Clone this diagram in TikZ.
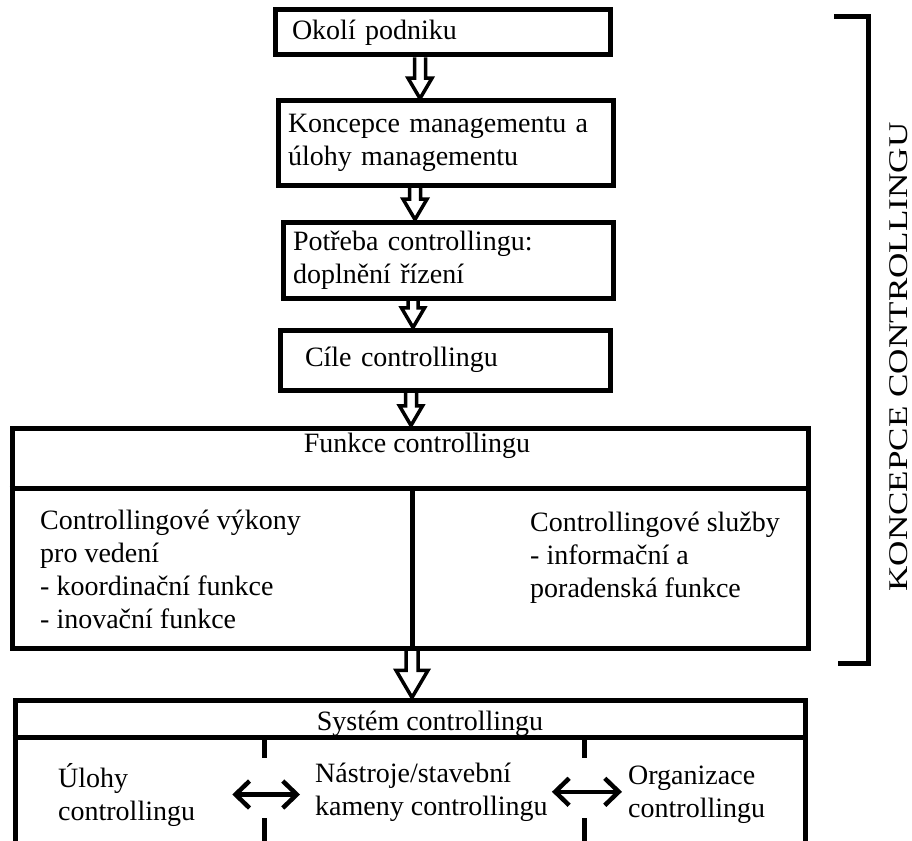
\documentclass[tikz,border=0pt]{standalone}
\usepackage{fontspec}
\setmainfont{Liberation Serif}
\newfontfamily\widefont{Liberation Serif}[FakeStretch=1.3]
\usepackage{tikz}
\usetikzlibrary{positioning,arrows.meta,calc}

% hollow block arrow: from node, to node, xshift, shaft half width, head half width
\newcommand{\hollowarrow}[5]{%
  \coordinate (ha-from) at ([xshift=#3]#1.south);
  \coordinate (ha-to) at (ha-from |- #2.north);
  \draw[hollow] ($(ha-from)+(-#4,0)$) -- ($(ha-to)+(-#4,-1.7*#5)$)
    -- ($(ha-to)+(-#5,-1.7*#5)$) -- (ha-to) -- ($(ha-to)+(#5,-1.7*#5)$)
    -- ($(ha-to)+(#4,-1.7*#5)$) -- ($(ha-from)+(#4,0)$);
}

\begin{document}
\begin{tikzpicture}[
  x=1pt, y=-1pt,
  font=\fontsize{28pt}{33pt}\selectfont,
  box/.style      = {draw, line width=5pt, rectangle, align=left, inner ysep=3pt},
  panel/.style    = {draw, line width=5pt, rectangle, inner sep=0pt},
  txt/.style      = {inner sep=0pt, align=left},
  rule/.style     = {line width=5pt},
  hollow/.style   = {line width=3.5pt, line join=miter},
  dblarrow/.style = {{Straight Barb[length=14pt,width=27pt]}-{Straight Barb[length=14pt,width=27pt]},
                     line width=4.5pt},
  divider/.style  = {line width=5pt, dash pattern=on 21pt off 60pt on 40pt},
  bracket/.style  = {line width=5pt},
]
\useasboundingbox (0,0) rectangle (912,840);

% ---------- concept chain ----------
\node[box, text width=301pt, inner xsep=17pt, minimum height=45pt] (okoli) at (442.5,32.5)
      {Okolí podniku};
\node[box, text width=315pt, inner xsep=10pt, minimum height=84pt,
      below=41pt of okoli, xshift=3pt] (koncepce) {Koncepce managementu a\\úlohy managementu};
\node[box, text width=310pt, inner xsep=10pt, minimum height=76pt,
      below=32pt of koncepce, xshift=2.5pt] (potreba) {Potřeba controllingu:\\doplnění řízení};
\node[box, text width=280pt, inner xsep=25pt, minimum height=60pt,
      below=27pt of potreba, xshift=-3pt] (cile) {Cíle controllingu};

% ---------- functions ----------
\node[panel, minimum width=796pt, minimum height=220pt,
      below=33pt of cile, xshift=-35pt] (funkce) {};
\draw[rule] ([yshift=-62.5pt]funkce.north west) -- ([yshift=-62.5pt]funkce.north east);
\draw[rule] ([xshift=2pt,yshift=-62.5pt]funkce.north) -- ([xshift=2pt]funkce.south);
\node[txt, anchor=base] (funkcehead) at ([xshift=7pt,yshift=-26.5pt]funkce.north)
      {Funkce controllingu};
% multi-line texts sit on the baseline of their last line
\node[txt, anchor=base west] (vykony) at ([xshift=30.5pt,yshift=-202.5pt]funkce.north west)
      {Controllingové výkony\\pro vedení\\- koordinační funkce\\- inovační funkce};
\node[txt, anchor=base west] (sluzby) at ([xshift=120pt,yshift=-171.5pt]funkce.north)
      {Controllingové služby\\- informační a\\poradenská funkce};

% ---------- system ----------
\node[panel, minimum width=790pt, minimum height=145pt, below=47pt of funkce] (system) {};
\draw[rule] ([yshift=-39.5pt]system.north west) -- ([yshift=-39.5pt]system.north east);
\node[txt, anchor=base] (systemhead) at ([xshift=20pt,yshift=-32.5pt]system.north)
      {Systém controllingu};
\draw[divider] ([xshift=-146pt,yshift=-39.5pt]system.north) -- ([xshift=-146pt]system.south);
\draw[divider] ([xshift=174pt,yshift=-39.5pt]system.north) -- ([xshift=174pt]system.south);

\node[txt, anchor=base west] (ulohy) at ([xshift=45.5pt,yshift=-122.5pt]system.north west)
      {Úlohy\\controllingu};
\node[txt, anchor=base west] (nastroje) at ([xshift=302.5pt,yshift=-117.5pt]system.north west)
      {Nástroje/stavební\\kameny controllingu};
\node[txt, anchor=base west] (organizace) at ([xshift=615.5pt,yshift=-119.5pt]system.north west)
      {Organizace\\controllingu};

\draw[dblarrow, shorten <=37pt, shorten >=15pt] (ulohy.east) -- (ulohy.east -| nastroje.west);
\draw[dblarrow, shorten <=4pt, shorten >=6pt] (nastroje.east) -- (nastroje.east -| organizace.west);

% ---------- block arrows ----------
\hollowarrow{okoli}{koncepce}{-22.5pt}{5.5}{12}
\hollowarrow{koncepce}{potreba}{-30.5pt}{5.5}{12}
\hollowarrow{potreba}{cile}{-35pt}{5}{11.5}
\hollowarrow{cile}{funkce}{-34pt}{5.5}{11.5}
\hollowarrow{funkce}{system}{2pt}{6}{16}

% ---------- bracket ----------
\draw[bracket] (834,17) -| (868,663) -- (838,663);
\node[rotate=90, inner sep=0pt, font=\widefont\fontsize{27pt}{33pt}\selectfont]
      (koncepcelbl) at (899,357) {KONCEPCE CONTROLLINGU};

\end{tikzpicture}
\end{document}
